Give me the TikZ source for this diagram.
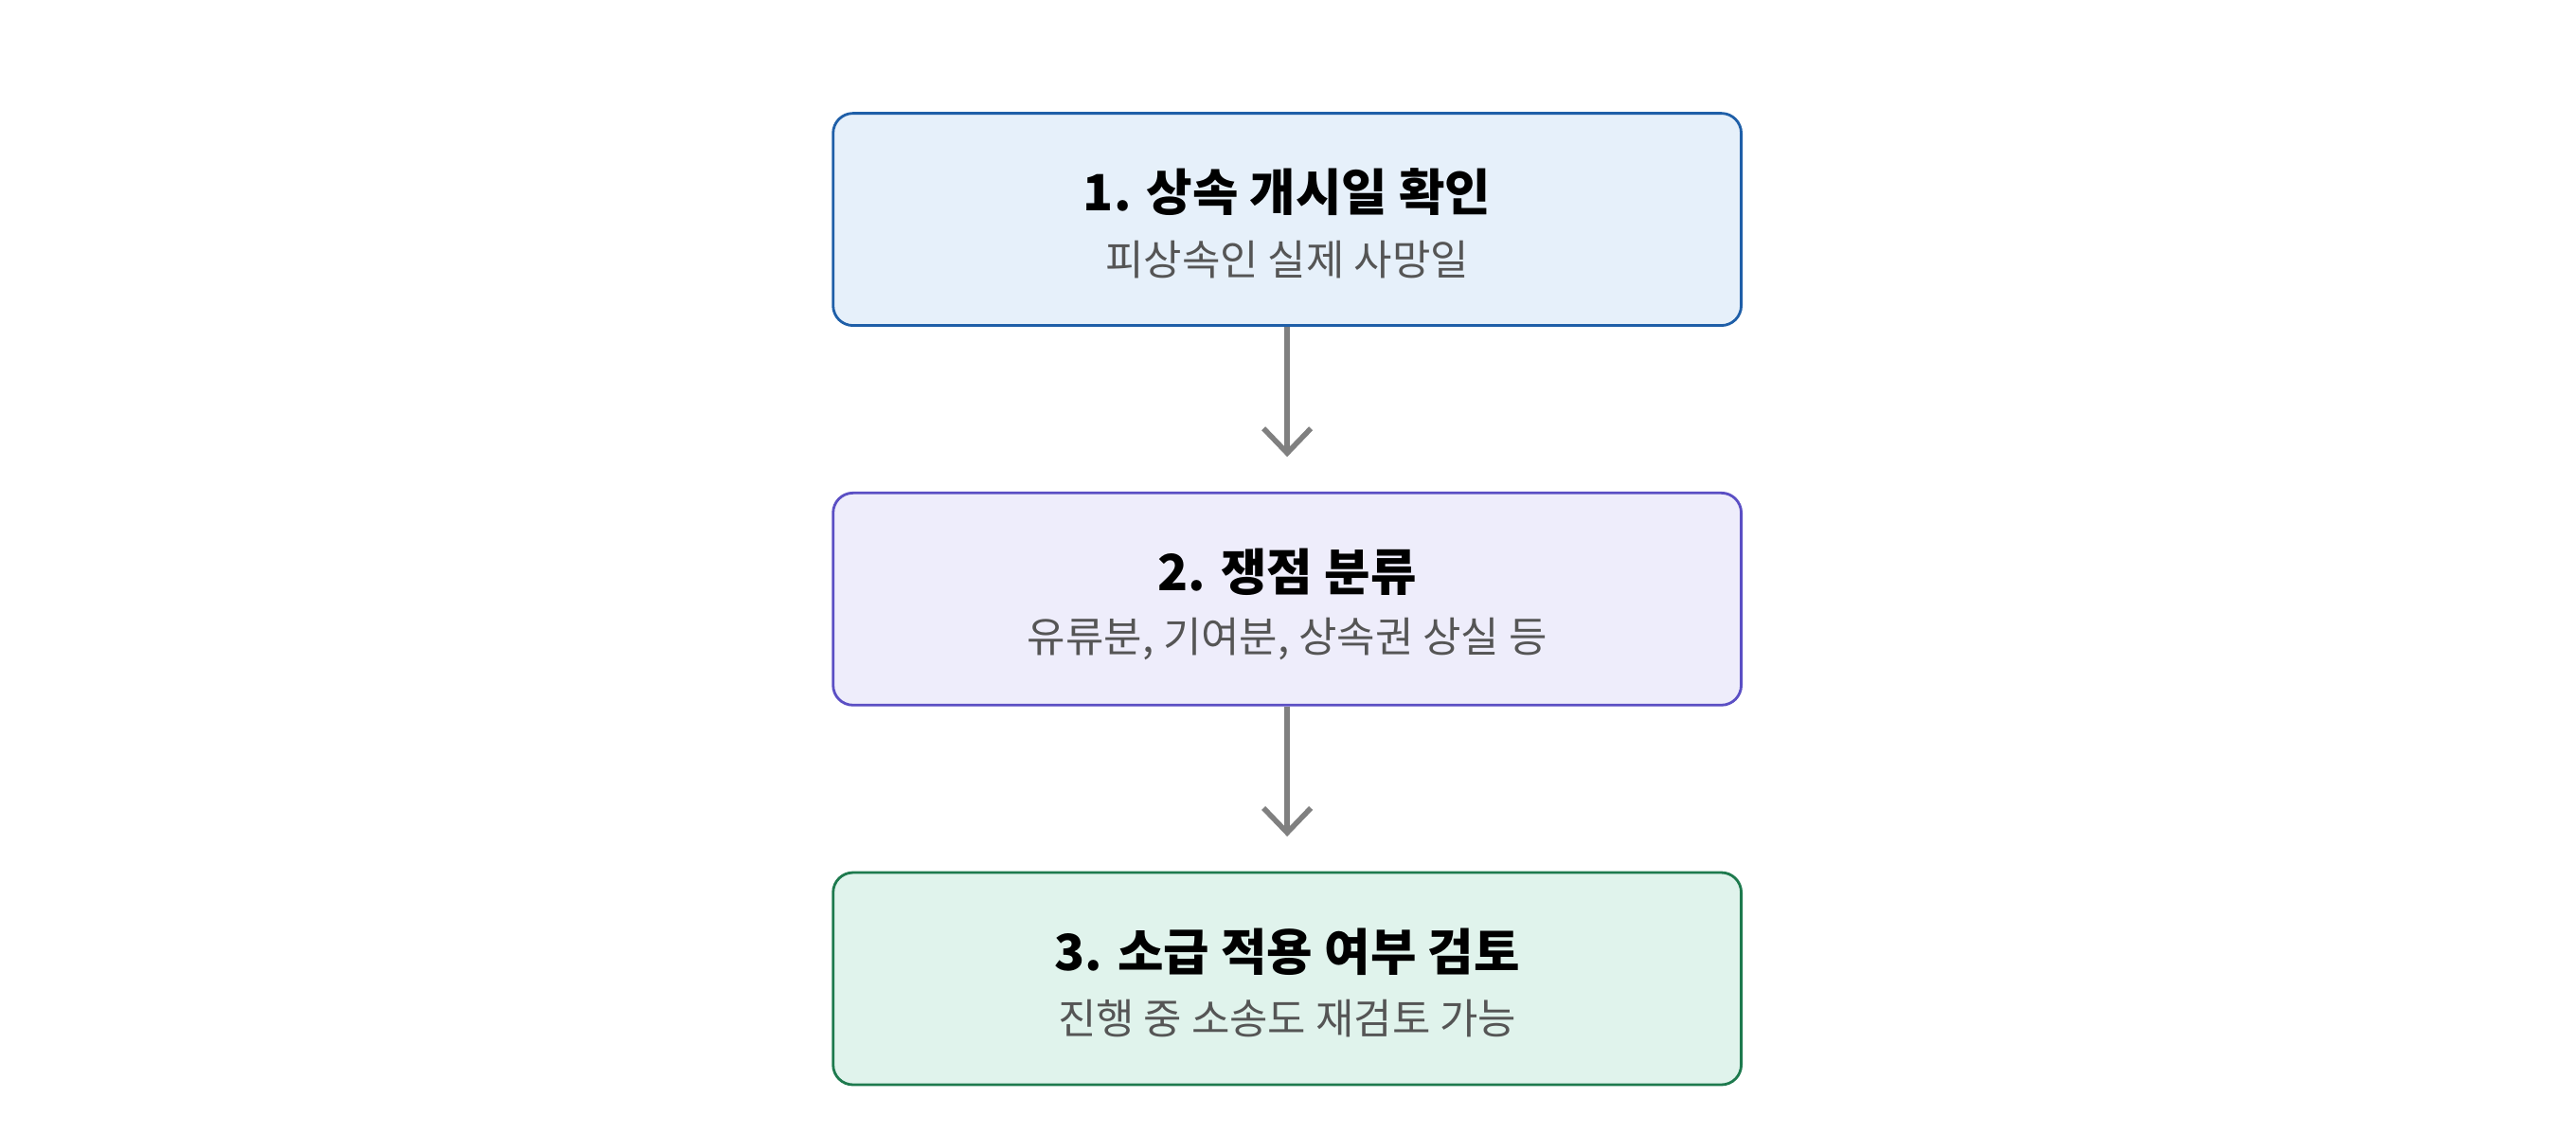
\documentclass[tikz,border=0pt]{standalone}
\usepackage{fontspec}
\setmainfont{Noto Sans CJK KR}
\usetikzlibrary{positioning, calc}
\usetikzlibrary{arrows.meta}
\definecolor{bluefill}{HTML}{E6F0FA}
\definecolor{blueline}{HTML}{1F5FA8}
\definecolor{purpfill}{HTML}{EEEDFB}
\definecolor{purpline}{HTML}{5B4FC4}
\definecolor{greenfill}{HTML}{E0F3EC}
\definecolor{greenline}{HTML}{1E7A4E}
\definecolor{subgray}{HTML}{555555}
\definecolor{arrgray}{HTML}{808080}
\begin{document}
\begin{tikzpicture}[x=0.01735cm,y=-0.01735cm]
	\tikzstyle{step-box}=[rounded corners=0.21cm,line width=0.8pt,minimum width=9.59cm,minimum height=2.24cm]
	\tikzstyle{title-lbl}=[font=\fontsize{15}{18}\selectfont\bfseries]
	\tikzstyle{sub-lbl}=[font=\fontsize{12.5}{15}\selectfont,text=subgray]
	\tikzstyle{flow}=[draw=arrgray,line width=1.6pt,-{Straight Barb[length=2.6mm,width=5mm]}]
	\useasboundingbox (0,0) rectangle (1568,690);

	% steps
	\node[step-box,draw=blueline,fill=bluefill]	(s1)	at (783.5,133.5)	{};
	\node[step-box,draw=purpline,fill=purpfill]	(s2)	at (783.5,364.5)	{};
	\node[step-box,draw=greenline,fill=greenfill]	(s3)	at (783.5,595.5)	{};

	% labels
	\node[title-lbl]	(t1)	at (783.5,117)	{1. 상속 개시일 확인};
	\node[sub-lbl]	(u1)	at (783.5,158)	{피상속인 실제 사망일};
	\node[title-lbl]	(t2)	at (783.5,348)	{2. 쟁점 분류};
	\node[sub-lbl]	(u2)	at (783.5,389)	{유류분, 기여분, 상속권 상실 등};
	\node[title-lbl]	(t3)	at (783.5,579)	{3. 소급 적용 여부 검토};
	\node[sub-lbl]	(u3)	at (783.5,620)	{진행 중 소송도 재검토 가능};

	\coordinate (e1) at (783.5,278);
	\coordinate (e2) at (783.5,509);
	\draw[flow] (s1.south) -- (e1);
	\draw[flow] (s2.south) -- (e2);
\end{tikzpicture}
\end{document}
